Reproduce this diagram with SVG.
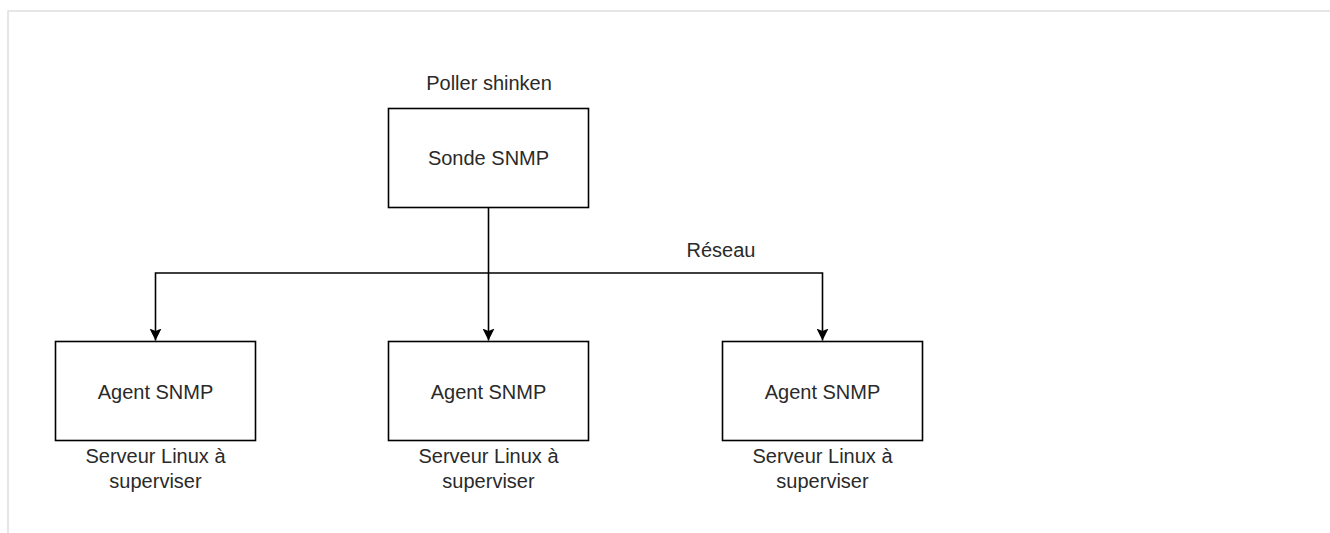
<svg xmlns="http://www.w3.org/2000/svg" width="1330" height="533" viewBox="0 0 1330 533">
<defs>
<marker id="arr" viewBox="0 0 12 12" refX="12" refY="6" markerWidth="12" markerHeight="12" markerUnits="userSpaceOnUse" orient="auto">
<path d="M0,0 L12,6 L0,12 L2.5,6 Z" fill="#000"/>
</marker>
<style>
.box{fill:#fff;stroke:#000;stroke-width:1.6}
.t{font-family:"Liberation Sans",Arial,sans-serif;font-size:20px;fill:#2a2a2a;text-anchor:middle}
.c{fill:none;stroke:#000;stroke-width:1.6}
</style>
</defs>
<rect width="1330" height="533" fill="#fff"/>
<path d="M8,533 V11 H1330" fill="none" stroke="#dedee2" stroke-width="1.5"/>
<g id="connectors">
<path class="c" d="M488.5,207.5 V340.5" marker-end="url(#arr)"/>
<path class="c" d="M488.5,273 H155.5 V340.5" marker-end="url(#arr)"/>
<path class="c" d="M488.5,273 H822.5 V340.5" marker-end="url(#arr)"/>
<text class="t" x="721" y="257">Réseau</text>
</g>
<g id="sonde">
<text class="t" x="489" y="90">Poller shinken</text>
<rect class="box" x="388.5" y="108.5" width="200" height="99"/>
<text class="t" x="488.5" y="165">Sonde SNMP</text>
</g>
<g id="agent1">
<rect class="box" x="55.5" y="341.5" width="200" height="99"/>
<text class="t" x="155.5" y="399">Agent SNMP</text>
<text class="t" x="155.5" y="463">Serveur Linux à</text>
<text class="t" x="155.5" y="488">superviser</text>
</g>
<g id="agent2">
<rect class="box" x="388.5" y="341.5" width="200" height="99"/>
<text class="t" x="488.5" y="399">Agent SNMP</text>
<text class="t" x="488.5" y="463">Serveur Linux à</text>
<text class="t" x="488.5" y="488">superviser</text>
</g>
<g id="agent3">
<rect class="box" x="722.5" y="341.5" width="200" height="99"/>
<text class="t" x="822.5" y="399">Agent SNMP</text>
<text class="t" x="822.5" y="463">Serveur Linux à</text>
<text class="t" x="822.5" y="488">superviser</text>
</g>
</svg>
